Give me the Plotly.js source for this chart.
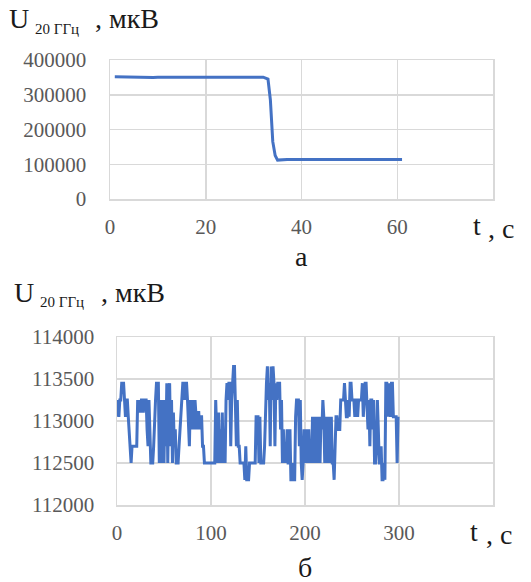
<!DOCTYPE html>
<html><head><meta charset="utf-8">
<script src="https://cdn.plot.ly/plotly-3.0.1.min.js"></script>
<style>html,body{margin:0;padding:0;background:#fff}</style>
</head><body>
<div id="chart" style="width:531px;height:582px"></div>
<script>
// Chart (a): transient
const tA = [1,2,3,4,5,6,7,8,9,10,11,12,13,14,15,16,17,18,19,20,21,22,23,24,25,26,27,28,29,30,31,32,33,33.5,34,34.5,35,36,37,38,39,40,41,42,43,44,45,46,47,48,49,50,51,52,53,54,55,56,57,58,59,60,61];
const uA = [352000,351500,351000,351000,350500,350500,350500,350000,350000,350500,350500,350000,349500,350000,350500,350500,350500,350500,350500,350500,351000,351000,351000,351000,351000,351000,351000,351000,351500,351500,351000,350500,345000,285000,165000,125000,112000,113500,114000,114000,114000,114000,114000,114000,114000,114000,114000,114000,114000,114000,114000,114000,114000,114000,114000,114000,114000,114000,114000,114000,114000,114000,114000];

// Chart (б): steady state noise
const tB = [];
for (let i = 0; i < 300; i++) tB.push(i);
const uB = [
113050,113250,113050,113250,113250,113450,113450,113450,113250,113050,
113250,113250,113050,112900,112700,112500,112700,112700,112700,112700,
112700,112700,113250,113100,113250,113100,113250,113250,113100,113250,
113250,113250,112900,112700,113250,112900,112500,112500,112500,112700,
113050,113250,113450,113450,113450,112500,113250,112500,112700,113250,
112500,113250,112700,113450,112500,113250,113450,112700,113250,112500,
113100,112700,112900,112500,112500,112500,112700,112900,113050,113250,
113450,113450,113250,113450,113450,113250,113050,112700,113250,112900,
113250,113050,112900,113250,113050,112900,113100,113100,112900,113050,
113050,112700,112700,112500,112500,112500,112500,112500,112500,112500,
112500,112500,112500,112500,112500,113250,112700,112500,113100,112500,
112900,112500,113100,112500,112700,112500,113250,113450,113250,113450,
113450,112700,113250,113450,113650,113650,113250,112700,113250,112700,
112700,112500,112500,112500,112500,112500,112300,112700,112300,112300,
112300,112500,112500,112500,112500,112500,112500,112500,113050,113050,
113050,112500,113050,112500,112500,112500,112500,112700,113250,113450,
113650,113250,113450,112700,113650,113250,113650,113450,112700,113450,
113250,113450,113450,113450,112900,113250,112500,112900,112500,112700,
112500,112900,112500,112500,112900,112300,112300,112500,112300,112300,
113050,113250,113250,113250,112700,113250,112500,112300,112500,112900,
112500,112900,112700,112500,112900,112500,112700,112500,113050,112500,
113050,112500,112900,113050,112500,113050,112500,113050,112900,113250,
113050,112500,113050,112700,112500,113050,112500,112900,113050,112500,
112500,112300,112700,113050,113050,112900,112900,112900,113250,113250,
113250,113250,113450,113250,113050,113050,113250,113050,113450,113450,
113250,113250,113250,113050,113250,113250,113050,113250,113250,113250,
113250,113450,113050,113250,113450,113450,113250,112900,113250,112700,
113250,113250,112900,113250,112500,112500,112700,113250,112900,112500,
112500,112700,112300,112300,112500,112300,113450,113450,113050,113450,
113250,113050,113450,113450,113050,113050,113050,113050,112500,113050];

const xTicksA = [0,20,40,60,80];
const xLabelsA = ['0','20','40','60',''];
const yTicksA = [0,100000,200000,300000,400000];
const yLabelsA = ['0','100000','200000','300000','400000'];
const xTicksB = [0,100,200,300,400];
const xLabelsB = ['0','100','200','300',''];
const yTicksB = [112000,112500,113000,113500,114000];
const yLabelsB = ['112000','112500','113000','113500','114000'];

const W = 531, H = 582;
const px = v => v / W;
const py = v => 1 - v / H;

const SERIF = 'Liberation Serif';
const GRID = '#d9d9d9';
const BLUE = '#4472C4';

function axis(domain, range, vals, text, len, anchor) {
  return {
    domain: domain, range: range, anchor: anchor,
    tickmode: 'array', tickvals: vals, ticktext: text,
    ticks: 'outside', ticklen: len, tickcolor: 'rgba(255,255,255,0)',
    tickfont: {family: SERIF, size: 21, color: '#595959'},
    showgrid: true, gridcolor: GRID, gridwidth: 1.5,
    zeroline: false, showline: true, linecolor: GRID, linewidth: 1.5, mirror: true
  };
}

const data = [
  {x: tA, y: uA, type: 'scatter', mode: 'lines', xaxis: 'x', yaxis: 'y',
   line: {color: BLUE, width: 3}},
  {x: tB, y: uB, type: 'scatter', mode: 'lines', xaxis: 'x2', yaxis: 'y2',
   line: {color: BLUE, width: 3}}
];

function ann(text, x, y, size, xanchor) {
  return {text: text, x: px(x), y: py(y), xref: 'paper', yref: 'paper',
    xanchor: xanchor || 'left', yanchor: 'middle', showarrow: false,
    font: {family: SERIF, size: size, color: '#1a1a1a'}};
}

const layout = {
  width: W, height: H, autosize: false,
  margin: {l: 0, r: 0, t: 0, b: 0, pad: 0},
  showlegend: false,
  xaxis: axis([px(110), px(493)], [0, 80], xTicksA, xLabelsA, 8, 'y'),
  yaxis: axis([py(199), py(60)], [0, 400000], yTicksA, yLabelsA, 18, 'x'),
  xaxis2: axis([px(117), px(493)], [0, 400], xTicksB, xLabelsB, 8, 'y2'),
  yaxis2: axis([py(505), py(337)], [112000, 114000], yTicksB, yLabelsB, 17, 'x2'),
  annotations: [
    ann('U', 7, 18, 28),
    ann('20 ГГц', 33, 29, 15),
    ann(', мкВ', 93, 18, 28),
    ann('t', 471, 226, 28),
    ann(', с', 486, 229, 28),
    ann('а', 301, 256, 28, 'center'),
    ann('U', 12, 292, 28),
    ann('20 ГГц', 38, 302, 15),
    ann(', мкВ', 99, 292, 28),
    ann('t', 468, 531, 28),
    ann(', с', 484, 534, 28),
    ann('б', 305, 567, 28, 'center')
  ]
};

Plotly.newPlot('chart', data, layout, {staticPlot: true});
</script>
</body></html>
